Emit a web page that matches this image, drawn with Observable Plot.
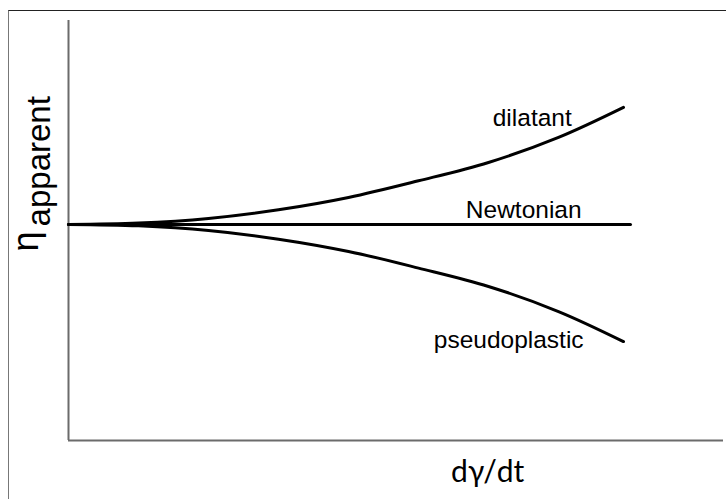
<!DOCTYPE html>
<html><head><meta charset="utf-8">
<script src="https://cdn.jsdelivr.net/npm/d3@7"></script>
<script src="https://cdn.jsdelivr.net/npm/@observablehq/plot@0.6"></script>
<style>
body{margin:0;background:#fff;overflow:hidden;}
#frame{position:absolute;left:8px;top:10px;width:740px;height:520px;border-top:1.5px solid #222;border-left:1.5px solid #777;box-sizing:border-box;}
#chart{position:absolute;left:0;top:0;}
</style></head><body>
<div id="frame"></div>
<div id="chart"></div>
<script>
// shear rate (arbitrary units) and apparent viscosity (relative to Newtonian)
const shearRate = [0, 1.069, 2.137, 3.206, 4.275, 5.344, 6.412, 7.481, 8.473];
const dilatant = [1.0, 1.0065, 1.028, 1.068, 1.125, 1.202, 1.287, 1.403, 1.542];
const pseudoplastic = [1.0, 0.9935, 0.972, 0.932, 0.875, 0.798, 0.713, 0.597, 0.458];
const newtonianX = [0, 8.58];
const newtonian = [1, 1];
const seriesNames = ["dilatant", "Newtonian", "pseudoplastic"];
const labelX = [7.08, 6.95, 6.72];
const labelY = [1.458, 1.032, 0.43];
const xTitle = "dγ/dt";
const yTitleMain = "η";
const yTitleSub = "apparent";

const dilData = shearRate.map((x, i) => ({x, y: dilatant[i]}));
const pseData = shearRate.map((x, i) => ({x, y: pseudoplastic[i]}));
const newData = newtonianX.map((x, i) => ({x, y: newtonian[i]}));
const labels = seriesNames.map((t, i) => ({t, x: labelX[i], y: labelY[i]}));

const chart = Plot.plot({
  width: 726, height: 499,
  marginLeft: 68, marginRight: 3, marginTop: 20, marginBottom: 59,
  style: {background: "transparent", overflow: "visible"},
  x: {domain: [0, 10], axis: null},
  y: {domain: [0, 1.944], axis: null},
  marks: [
    Plot.ruleX([0], {stroke: "#6b6b6b", strokeWidth: 2}),
    Plot.ruleY([0], {stroke: "#6b6b6b", strokeWidth: 2}),
    Plot.line(newData, {x: "x", y: "y", stroke: "black", strokeWidth: 3}),
    Plot.line(dilData, {x: "x", y: "y", curve: "catmull-rom", stroke: "black", strokeWidth: 3}),
    Plot.line(pseData, {x: "x", y: "y", curve: "catmull-rom", stroke: "black", strokeWidth: 3}),
    Plot.text(labels, {x: "x", y: "y", text: "t", lineAnchor: "bottom", textAnchor: "middle",
      fontSize: 24.5, fontFamily: "'Liberation Sans', Arial, sans-serif", fill: "black"}),
    Plot.text([xTitle], {x: 6.40, y: -0.194, text: d => d, lineAnchor: "bottom", textAnchor: "middle",
      fontSize: 30, fontFamily: "Lato, 'Open Sans', sans-serif", fill: "black"}),
    Plot.text([yTitleMain], {x: -0.473, y: 0.921, text: d => d, rotate: -90, lineAnchor: "bottom", textAnchor: "middle",
      fontSize: 36, fontFamily: "'Liberation Sans', Arial, sans-serif", fill: "black"}),
    Plot.text([yTitleSub], {x: -0.29, y: 0.991, text: d => d, rotate: -90, lineAnchor: "bottom", textAnchor: "start",
      fontSize: 33, fontFamily: "'Liberation Sans', Arial, sans-serif", fill: "black"})
  ]
});
document.getElementById("chart").appendChild(chart);
</script>
</body></html>
